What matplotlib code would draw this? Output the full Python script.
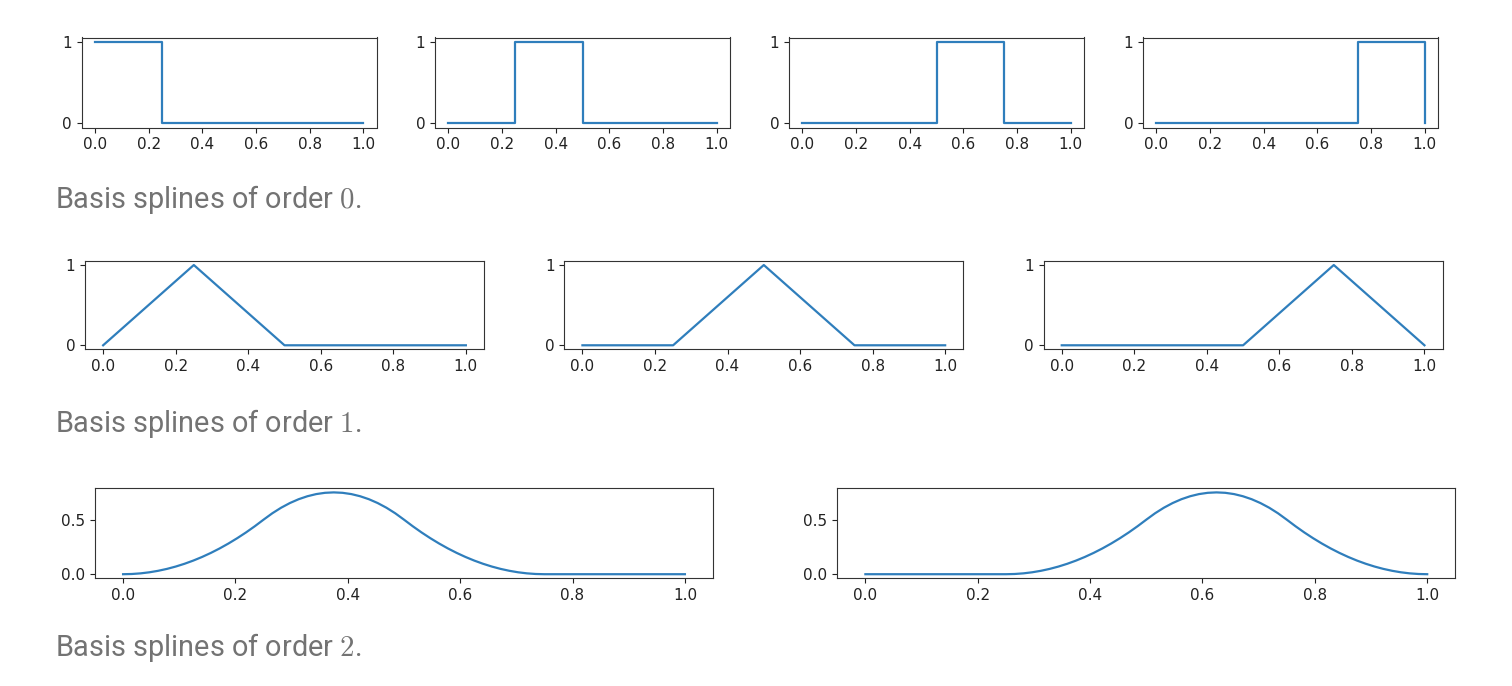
import matplotlib
matplotlib.use("Agg")
import matplotlib.pyplot as plt
import numpy as np

plt.rcParams['font.family'] = ['DejaVu Sans']
plt.rcParams['mathtext.fontset'] = 'cm'

# knots of the basis
knots = [0.0, 0.25, 0.5, 0.75, 1.0]

# order 0: piecewise constant
order0_x = [[0, 0.25, 0.25, 1.0],
            [0, 0.25, 0.25, 0.5, 0.5, 1.0],
            [0, 0.5, 0.5, 0.75, 0.75, 1.0],
            [0, 0.75, 0.75, 1.0, 1.0]]
order0_y = [[1, 1, 0, 0],
            [0, 0, 1, 1, 0, 0],
            [0, 0, 1, 1, 0, 0],
            [0, 0, 1, 1, 0]]

# order 1: hat functions on the knots
order1_y = [[0, 1, 0, 0, 0],
            [0, 0, 1, 0, 0],
            [0, 0, 0, 1, 0]]

# order 2: values read at x = 0, 1/64, ..., 1
order2_x = np.linspace(0, 1, 65)
bump = [0, .002, .0078, .0176, .0313, .0488, .0703, .0957, .125, .1582, .1953, .2363,
        .2813, .3301, .3828, .4395, .5, .5586, .6094, .6523, .6875, .7148, .7344, .7461,
        .75, .7461, .7344, .7148, .6875, .6523, .6094, .5586, .5, .4395, .3828, .3301,
        .2813, .2363, .1953, .1582, .125, .0957, .0703, .0488, .0313, .0176, .0078, .002, 0]
order2_y = [bump + [0] * 16,
            [0] * 16 + bump]

captions = ["Basis splines of order $0$.", "Basis splines of order $1$.", "Basis splines of order $2$."]
xticks = [0, 0.2, 0.4, 0.6, 0.8, 1.0]

W, H = 1512, 686
fig = plt.figure(figsize=(W / 100, H / 100), dpi=100)
blue = '#2f7ebc'

def add_ax(left, top, width, height):
    ax = fig.add_axes([left / W, 1 - (top + height) / H, width / W, height / H])
    ax.tick_params(labelsize=11, colors='#222222')
    for s in ax.spines.values():
        s.set_color('#333333')
    return ax

def fix_font(ax):
    for lab in ax.get_xticklabels() + ax.get_yticklabels():
        lab.set_fontfamily('DejaVu Sans')

# row 1
for i, left in enumerate([81.7, 435, 789, 1143]):
    ax = add_ax(left, 37.5, 295, 90)
    ax.plot(order0_x[i], order0_y[i], color=blue, lw=1.6)
    ax.set_xticks(xticks)
    ax.set_yticks([0, 1])
    fix_font(ax)

# row 2
for i, left in enumerate([85, 564.3, 1043.6]):
    ax = add_ax(left, 261, 399, 88.3)
    ax.plot(knots, order1_y[i], color=blue, lw=1.6)
    ax.set_xticks(xticks)
    ax.set_yticks([0, 1])
    fix_font(ax)

# row 3
for i, left in enumerate([95, 837.3]):
    ax = add_ax(left, 488.3, 618, 90)
    ax.plot(order2_x, order2_y[i], color=blue, lw=1.6)
    ax.set_xticks(xticks)
    ax.set_yticks([0, 0.5])
    fix_font(ax)

# captions
for cap, base in zip(captions, [208, 432, 656]):
    fig.text(55 / W, 1 - base / H, cap, fontsize=20.8, color='#737373',
             family=['Roboto', 'DejaVu Sans'], va='baseline')

# cut-off line of text from above
fig.text(385 / W, 1 + 5 / H, "(a,b)", fontsize=15, color='#555555', va='baseline',
         family=['Roboto', 'DejaVu Sans'])
fig.text(885 / W, 1 + 5 / H, "[a,b]", fontsize=15, color='#555555', va='baseline',
         family=['Roboto', 'DejaVu Sans'])

fig.savefig('out.png', dpi=100, facecolor='white')
